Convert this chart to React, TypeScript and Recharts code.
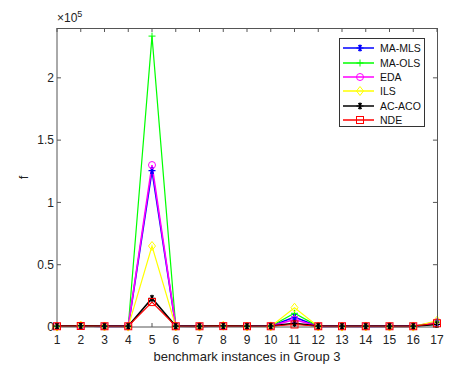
import React from "react";
import { LineChart, Line, XAxis, YAxis, ReferenceLine } from "recharts";

const instances = [1, 2, 3, 4, 5, 6, 7, 8, 9, 10, 11, 12, 13, 14, 15, 16, 17];
const maMls = [600, 900, 500, 500, 125500, 600, 500, 800, 600, 700, 8000, 500, 500, 500, 500, 500, 3500];
const maOls = [500, 800, 500, 400, 233500, 500, 500, 700, 500, 600, 11000, 500, 400, 500, 400, 400, 4000];
const eda = [600, 900, 500, 500, 130000, 600, 500, 800, 600, 700, 6000, 500, 500, 500, 500, 500, 4000];
const ils = [300, 1200, 400, 300, 65000, 400, 300, 1000, 400, 500, 15500, 400, 300, 400, 300, 300, 5000];
const acAco = [800, 1000, 700, 700, 23000, 700, 700, 900, 700, 800, 3000, 700, 700, 700, 700, 700, 2000];
const nde = [600, 800, 600, 600, 20000, 600, 600, 700, 600, 600, 2000, 600, 600, 600, 600, 600, 3000];
const yTicks = [0, 50000, 100000, 150000, 200000];
const xDomain: [number, number] = [1, 17];
const yDomain: [number, number] = [0, 240000];

const series = [
  { key: "MA-MLS", values: maMls, color: "#0000ff", marker: "star" },
  { key: "MA-OLS", values: maOls, color: "#00ff00", marker: "plus" },
  { key: "EDA", values: eda, color: "#ff00ff", marker: "circle" },
  { key: "ILS", values: ils, color: "#ffff00", marker: "diamond" },
  { key: "AC-ACO", values: acAco, color: "#000000", marker: "star" },
  { key: "NDE", values: nde, color: "#ff0000", marker: "square" },
];

const data = instances.map((x, i) => {
  const row: Record<string, number> = { x };
  series.forEach((s) => (row[s.key] = s.values[i]));
  return row;
});

const font = '"Liberation Sans", Arial, sans-serif';
const W = 461;
const H = 377;
const margin = { top: 28, right: 24, bottom: 0, left: 0 };
const yAxisWidth = 57;
const xAxisHeight = 50;
// inward tick length on the top / right edges, in data units (~4px)
const xTickLen = 0.17;
const yTickLen = 3200;

function Marker({ cx, cy, color, shape }: { cx: number; cy: number; color: string; shape: string }) {
  const r = 3.5;
  if (shape === "circle") return <circle cx={cx} cy={cy} r={r} fill="none" stroke={color} strokeWidth={1} />;
  if (shape === "square") return <rect x={cx - r} y={cy - r} width={2 * r} height={2 * r} fill="none" stroke={color} strokeWidth={1} />;
  if (shape === "diamond")
    return <polygon points={`${cx},${cy - r - 1} ${cx + r},${cy} ${cx},${cy + r + 1} ${cx - r},${cy}`} fill="none" stroke={color} strokeWidth={1} />;
  if (shape === "plus")
    return (
      <path d={`M${cx - r},${cy}H${cx + r}M${cx},${cy - r}V${cy + r}`} stroke={color} strokeWidth={1} fill="none" />
    );
  // asterisk
  const d = r * 0.87;
  return (
    <path
      d={`M${cx - r},${cy}H${cx + r}M${cx - d / 2},${cy - d}L${cx + d / 2},${cy + d}M${cx + d / 2},${cy - d}L${cx - d / 2},${cy + d}M${cx},${cy - r}V${cy + r}`}
      stroke={color}
      strokeWidth={1.2}
      fill="none"
    />
  );
}

const axisColor = "#555555";
const tickStyle = { fill: "#222", fontSize: 12, fontFamily: font };

export default function App() {
  return (
    <div style={{ position: "absolute", left: 0, top: 0, width: W, height: H, background: "#fff", fontFamily: font }}>
      <LineChart width={W} height={H} data={data} margin={margin}>
        <XAxis
          dataKey="x"
          type="number"
          domain={xDomain}
          ticks={instances}
          height={xAxisHeight}
          tickSize={-4}
          tickMargin={12}
          stroke={axisColor}
          tick={tickStyle}
          interval={0}
        />
        <YAxis
          type="number"
          domain={yDomain}
          ticks={yTicks}
          width={yAxisWidth}
          tickSize={-4}
          tickMargin={7}
          stroke={axisColor}
          tick={tickStyle}
          tickFormatter={(v: number) => String(v / 100000)}
          interval={0}
        />
        {/* inward ticks on the top and right edges of the box */}
        {instances.map((x) => (
          <ReferenceLine
            key={`tt-${x}`}
            segment={[
              { x, y: yDomain[1] },
              { x, y: yDomain[1] - yTickLen },
            ]}
            stroke={axisColor}
          />
        ))}
        {yTicks.map((y) => (
          <ReferenceLine
            key={`rt-${y}`}
            segment={[
              { x: xDomain[1], y },
              { x: xDomain[1] - xTickLen, y },
            ]}
            stroke={axisColor}
          />
        ))}
        {series.map((s) => (
          <Line
            key={s.key}
            dataKey={s.key}
            stroke={s.color}
            strokeWidth={s.marker === "plus" || s.marker === "square" || s.key === "ILS" ? 1.2 : 1.6}
            isAnimationActive={false}
            dot={(p: any) => <Marker key={`${s.key}-${p.index}`} cx={p.cx} cy={p.cy} color={s.color} shape={s.marker} />}
            activeDot={false}
          />
        ))}
      </LineChart>

      {/* axes box (top and right edges) around the plot area */}
      <div
        style={{
          position: "absolute",
          left: margin.left + yAxisWidth,
          top: margin.top - 0.5,
          width: W - margin.left - yAxisWidth - margin.right + 0.5,
          height: H - margin.top - margin.bottom - xAxisHeight,
          borderTop: `1px solid ${axisColor}`,
          borderRight: `1px solid ${axisColor}`,
          boxSizing: "border-box",
          pointerEvents: "none",
        }}
      />

      <div style={{ position: "absolute", left: 57, top: 9, fontSize: 12, color: "#222" }}>
        ×10<sup style={{ fontSize: 9, verticalAlign: "5px" }}>5</sup>
      </div>
      <div
        style={{
          position: "absolute",
          left: 22,
          top: 170,
          fontSize: 13,
          color: "#222",
          transform: "rotate(-90deg)",
        }}
      >
        f
      </div>
      <div style={{ position: "absolute", left: 57, width: 380, top: 349, textAlign: "center", fontSize: 13, color: "#222" }}>
        benchmark instances in Group 3
      </div>

      <div
        style={{
          position: "absolute",
          left: 339,
          top: 38,
          width: 86,
          height: 89,
          border: "1px solid #333",
          background: "#fff",
          boxSizing: "border-box",
          paddingTop: 2,
        }}
      >
        {series.map((s) => (
          <div key={s.key} style={{ display: "flex", alignItems: "center", height: 14.4 }}>
            <svg width={40} height={14} style={{ flex: "none" }}>
              <line x1={3} x2={34} y1={7} y2={7} stroke={s.color} strokeWidth={1.5} />
              <Marker cx={20} cy={7} color={s.color} shape={s.marker} />
            </svg>
            <span style={{ fontSize: 10.5, color: "#111" }}>{s.key}</span>
          </div>
        ))}
      </div>
    </div>
  );
}
